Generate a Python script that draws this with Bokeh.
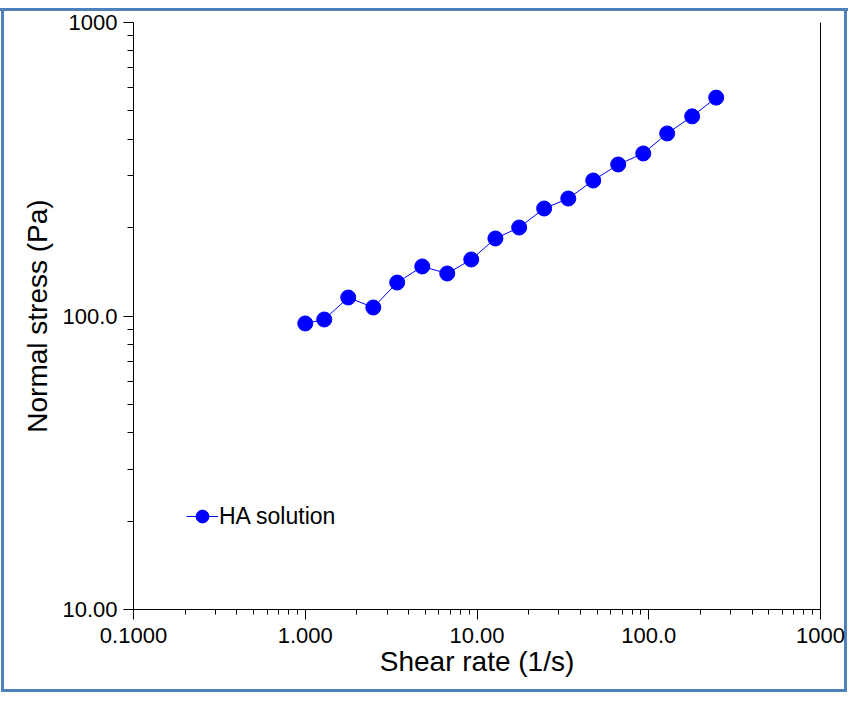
from bokeh.plotting import figure
from bokeh.models import Range1d, FixedTicker, LogAxis, Legend, LegendItem
from bokeh.embed import file_html
from bokeh.resources import INLINE

# HA solution: normal stress vs shear rate
shear_rate = [1.00, 1.29, 1.78, 2.49, 3.43, 4.80, 6.71, 9.26, 12.8, 17.6,
              24.6, 34.0, 47.5, 66.4, 92.9, 128, 179, 247]
normal_stress = [94.3, 97.3, 115.6, 106.9, 130.0, 147.5, 139.6, 155.8, 183.7, 200.2,
                 232.4, 251.3, 289.5, 328.3, 357.9, 418.8, 478.9, 554.7]

x_ticks = [0.1, 1, 10, 100, 1000]
x_tick_labels = ["0.1000", "1.000", "10.00", "100.0", "1000"]
y_ticks = [10, 100, 1000]
y_tick_labels = ["10.00", "100.0", "1000"]

FONT = "Liberation Sans"
BLUE = "#0000ff"
FRAME_BLUE = "#4f81bd"

p = figure(width=848, height=693, x_axis_type="log", y_axis_type="log",
           x_range=Range1d(0.1, 1000), y_range=Range1d(10, 1000),
           output_backend="svg", toolbar_location=None,
           min_border_left=133, min_border_right=28,
           min_border_top=22, min_border_bottom=84)
p.outline_line_color = None
p.grid.visible = False

# blue frame round the whole chart: drawn by the page element behind a see-through canvas
# (top edge sits a few px lower than the others, as in the original)
p.border_fill_color = None
p.background_fill_color = None
p.styles = {"background-color": "white",
            "box-shadow": ("inset 0 8px 0 0 white, inset 0 11px 0 0 " + FRAME_BLUE +
                           ", inset 0 0 0 1px white, inset 0 0 0 4px " + FRAME_BLUE)}


def minor_between(ticks):
    return [m * t for t in ticks[:-1] for m in range(2, 10)]


p.xaxis.ticker = FixedTicker(ticks=x_ticks, minor_ticks=minor_between(x_ticks))
p.yaxis.ticker = FixedTicker(ticks=y_ticks, minor_ticks=minor_between(y_ticks))
p.xaxis.major_label_overrides = dict(zip(x_ticks, x_tick_labels))
p.yaxis.major_label_overrides = dict(zip(y_ticks, y_tick_labels))

for ax in (p.xaxis, p.yaxis):
    ax.axis_line_color = "black"
    ax.major_tick_line_color = "black"
    ax.minor_tick_line_color = "black"
    ax.major_tick_in = 0
    ax.major_tick_out = 10
    ax.minor_tick_in = 0
    ax.major_label_text_font = FONT
    ax.major_label_text_font_size = "22px"
    ax.major_label_text_color = "black"
    ax.axis_label_text_font = FONT
    ax.axis_label_text_font_size = "28px"
    ax.axis_label_text_font_style = "normal"
    ax.axis_label_text_color = "black"

p.xaxis.minor_tick_out = 5
p.yaxis.minor_tick_out = 6
p.xaxis.axis_label = "Shear rate (1/s)"
p.yaxis.axis_label = "Normal stress (Pa)"
p.xaxis.major_label_standoff = 8
p.xaxis.axis_label_standoff = 0
p.yaxis.major_label_standoff = 6
p.yaxis.axis_label_standoff = 6

# plain line on the right side, no ticks
right = LogAxis(ticker=FixedTicker(ticks=[]), axis_line_color="black",
                major_tick_line_color=None, minor_tick_line_color=None,
                major_label_text_font_size="0px")
p.add_layout(right, "right")

line_r = p.line(shear_rate, normal_stress, line_color=BLUE, line_width=1)
dots_r = p.scatter(shear_rate, normal_stress, size=15, fill_color=BLUE, line_color=BLUE)

legend = Legend(items=[LegendItem(label="HA solution", renderers=[line_r, dots_r])],
                location=(53, 77), padding=0, margin=0, spacing=0,
                glyph_width=32, glyph_height=32, label_standoff=1,
                label_text_font=FONT, label_text_font_size="23px",
                label_text_color="black",
                border_line_color=None, background_fill_alpha=0)
p.add_layout(legend)

open("out.html", "w").write(file_html(p, INLINE))
